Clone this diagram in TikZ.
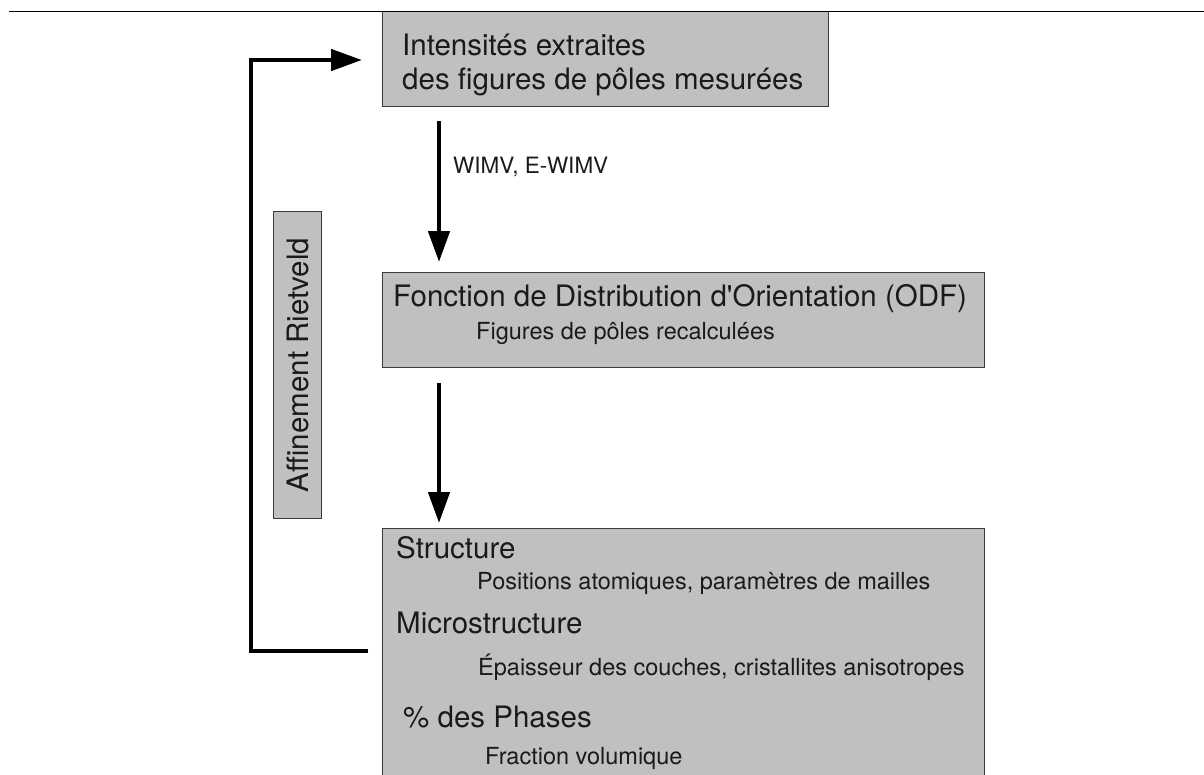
\documentclass[tikz,border=0pt]{standalone}
\usepackage{fontspec}
\setmainfont{TeX Gyre Heros}
\usetikzlibrary{arrows.meta}
\definecolor{boxgray}{HTML}{C0C0C0}
\definecolor{edgegray}{HTML}{3A3A3A}
\definecolor{inkc}{HTML}{1A1A1A}
\begin{document}
\begin{tikzpicture}[x=1pt,y=-1pt,
  box/.style={draw=edgegray, line width=1pt, fill=boxgray, inner sep=0pt, anchor=north west},
  head/.style={font=\fontsize{29.5}{34}\selectfont, anchor=base west, inner sep=0pt, text=inkc},
  sub/.style={font=\fontsize{23.5}{28}\selectfont, anchor=base west, inner sep=0pt, text=inkc},
  flow/.style={line width=4.5pt, -{Triangle[length=31pt,width=21pt]}},
  loopline/.style={line width=4.5pt, -{Triangle[length=31pt,width=21pt]}}
]
\useasboundingbox (0,0) rectangle (1204,774);
% boxes
\node[box, minimum width=446pt, minimum height=95pt] (top) at (382,11) {};
\node[box, minimum width=602pt, minimum height=95pt] (mid) at (382,272) {};
\node[box, minimum width=602pt, minimum height=262pt] (low) at (382,528) {};
\node[box, minimum width=48pt, minimum height=307pt] (riet) at (273,211) {};
% top rule
\draw[line width=1pt, black] (9,11) -- (1204,11);
% texts
\node[head] (t1) at (402,55) {Intensités extraites};
\node[head] (t2) at (402,89) {des figures de pôles mesurées};
\node[head] (m1) at (393,306) {Fonction de Distribution d\textquotesingle Orientation (ODF)};
\node[sub] (m2) at (476,339) {Figures de pôles recalculées};
\node[sub, font=\fontsize{22.5}{26}\selectfont] (wimv) at (453,173) {WIMV, E-WIMV};
\node[head] (l1) at (396,558) {Structure};
\node[sub] (l2) at (477,589) {Positions atomiques, paramètres de mailles};
\node[head] (l3) at (396,633) {Microstructure};
\node[sub] (l4) at (478,675) {Épaisseur des couches, cristallites anisotropes};
\node[head] (l5) at (403,727) {\% des Phases};
\node[sub] (l6) at (485,764) {Fraction volumique};
\node[font=\fontsize{29.5}{34}\selectfont, text=inkc, rotate=90, inner sep=0pt] (rt) at (riet.center) {Affinement Rietveld};
% connectors
\coordinate (ax) at (439,0);
\coordinate (loopx) at (251,0);
\coordinate (ybot) at (0,651);
\coordinate (ytop) at (0,60);
\draw[flow] ([yshift=-14pt]top.south -| ax) -- ([yshift=10pt]mid.north -| ax);
\draw[flow] ([yshift=-15pt]mid.south -| ax) -- ([yshift=5pt]low.north -| ax);
\draw[loopline] ([xshift=-14pt]low.west |- ybot) -- (loopx |- ybot) -- (loopx |- ytop) -- ([xshift=-20pt]top.west |- ytop);
\end{tikzpicture}
\end{document}
